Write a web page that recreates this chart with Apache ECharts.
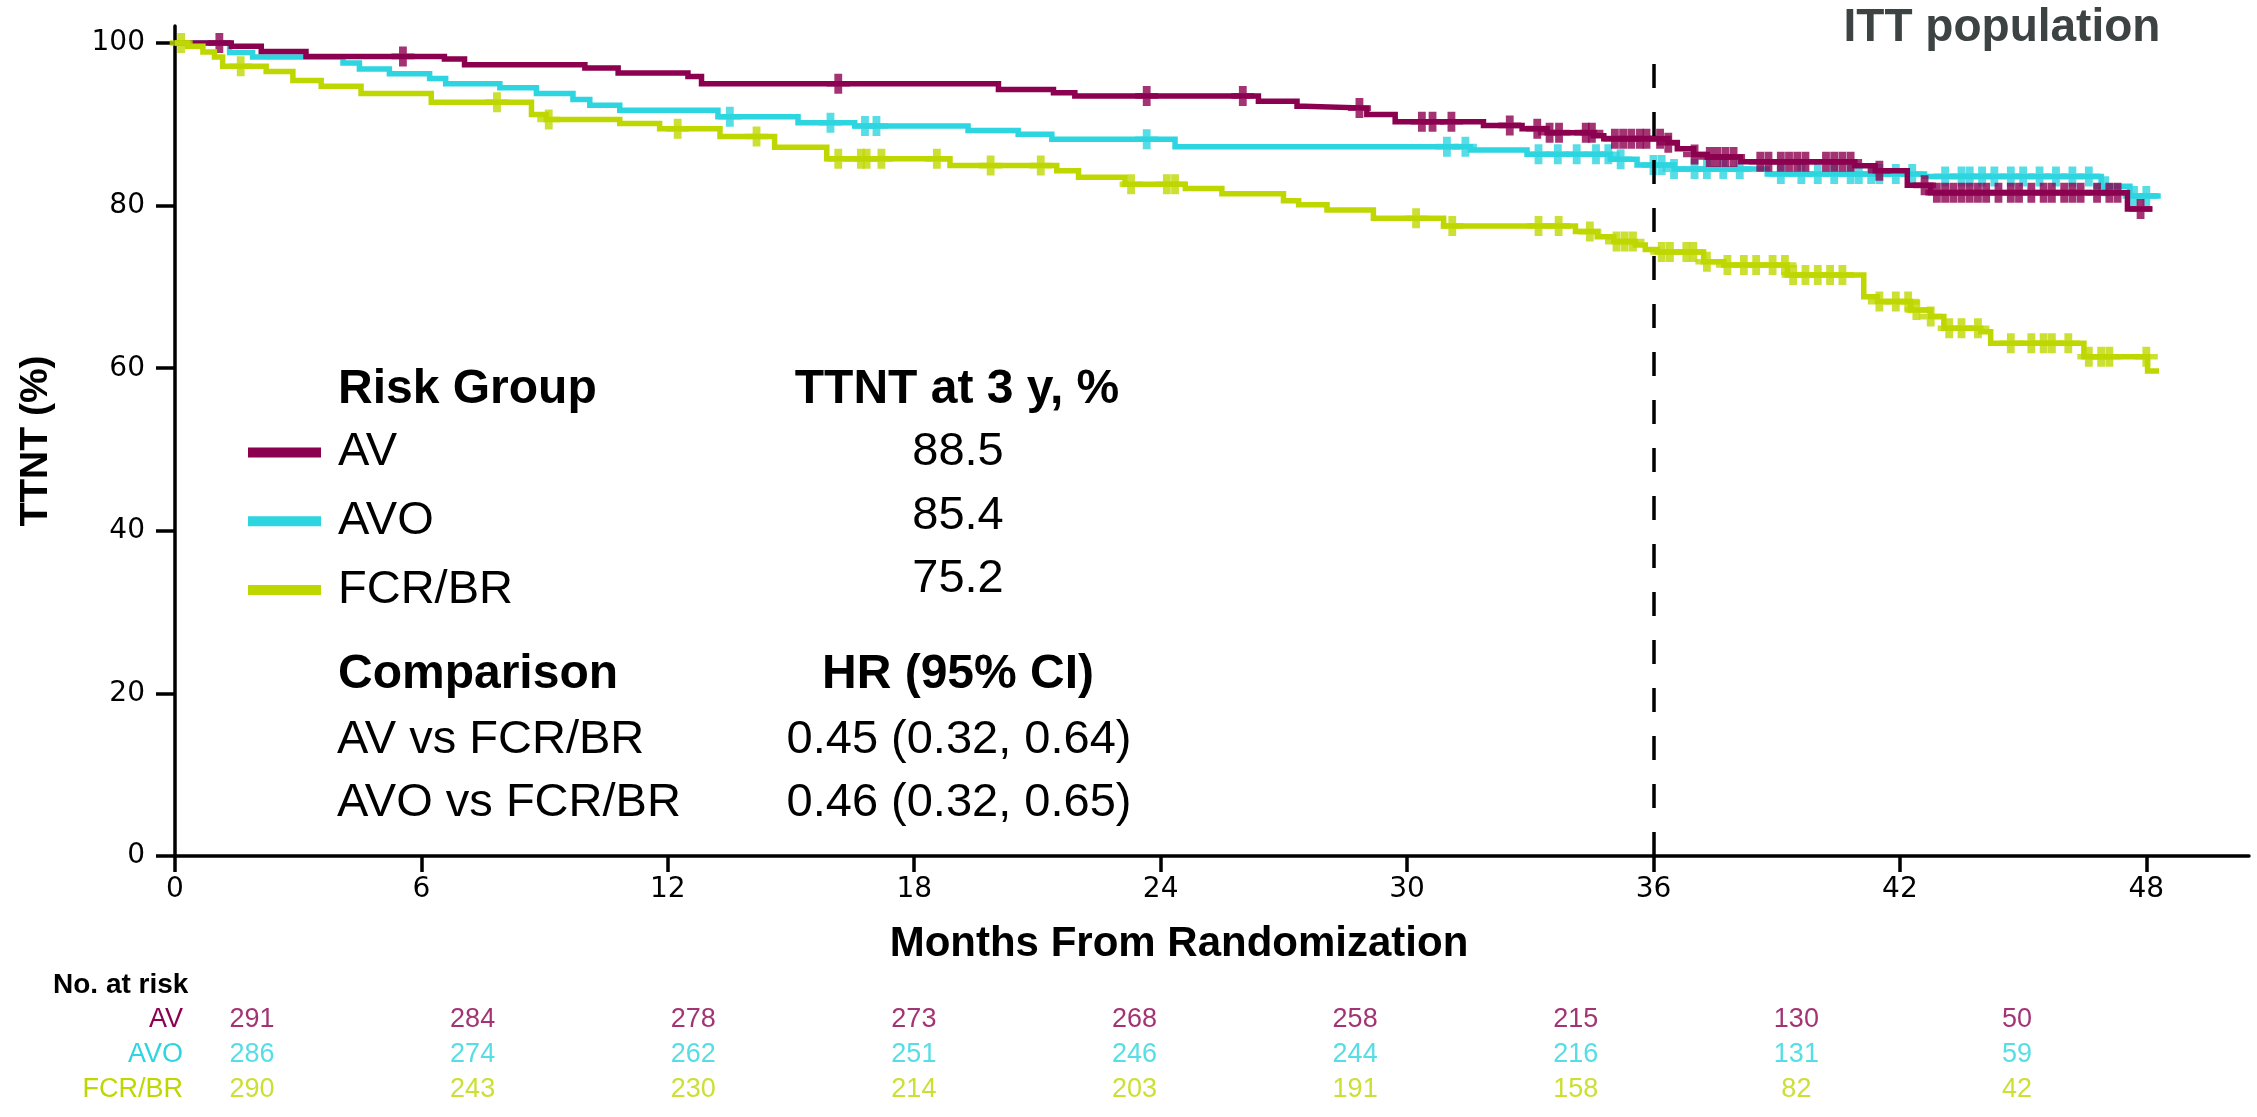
<!DOCTYPE html>
<html><head><meta charset="utf-8">
<script src="https://cdn.jsdelivr.net/npm/echarts@6/dist/echarts.min.js"></script>
<style>html,body{margin:0;padding:0;background:#fff}#c{width:2257px;height:1117px}</style>
</head><body><div id="c"></div>
<script>
// ---------- data ----------
const groupNames = ['AV', 'AVO', 'FCR/BR'];
const groupColors = ['#8C0050', '#2DD5E0', '#BFD700'];
const xTicks = [0, 6, 12, 18, 24, 30, 36, 42, 48];
const yTicks = [0, 20, 40, 60, 80, 100];

// Kaplan-Meier steps: [month, TTNT % from that month on]
const avSteps = [[0,100],[1.37,99.6],[2.10,98.97],[3.19,98.36],[6.56,98.04],[7.05,97.34],[9.98,96.94],[10.79,96.33],[12.49,95.9],[12.82,95.0],[20.05,94.28],[21.39,93.88],[21.91,93.5],[26.38,92.85],[27.32,92.24],[27.5,92.0],[29.02,91.22],[29.71,90.32],[31.86,89.87],[32.8,89.47],[33.41,88.98],[34.53,88.6],[34.79,88.24],[36.33,87.75],[36.58,87.0],[36.98,86.3],[37.31,86.0],[38.12,85.4],[40.9,84.9],[41.4,84.3],[42.18,82.5],[42.75,81.6],[47.54,79.6]];
const avEnd = 48.15;
const avoSteps = [[0,100],[1.33,98.85],[1.89,98.3],[4.09,97.55],[4.49,96.8],[5.22,96.24],[6.20,95.63],[6.59,95.0],[7.91,94.5],[8.80,93.79],[9.69,93.06],[10.10,92.36],[10.83,91.75],[13.22,90.93],[15.17,90.2],[16.55,89.8],[19.31,89.26],[20.53,88.77],[21.35,88.16],[24.35,87.26],[31.54,86.85],[32.92,86.32],[34.95,85.71],[35.6,85.0],[36.5,84.5],[38.77,83.9],[42.6,83.6],[46.9,82.4],[47.6,81.2]];
const avoEnd = 48.35;
const fcrSteps = [[0,100],[0.31,99.6],[0.68,98.9],[0.96,98.3],[1.16,97.14],[2.22,96.5],[2.87,95.4],[3.56,94.7],[4.53,93.8],[6.24,92.73],[8.68,91.2],[9.04,90.6],[10.83,90.1],[11.80,89.45],[13.27,88.5],[14.6,87.2],[15.87,85.76],[18.87,84.93],[21.47,84.28],[22.0,83.5],[23.13,82.64],[24.6,82.1],[25.49,81.45],[26.99,80.59],[27.36,80.1],[28.05,79.48],[29.18,78.46],[30.89,77.51],[34.1,76.81],[34.63,76.19],[35.03,75.58],[35.56,75.17],[35.8,74.6],[36.09,74.3],[37.22,73.1],[37.71,72.7],[39.26,71.48],[41.12,68.8],[41.45,68.2],[42.26,67.17],[42.75,66.35],[43.07,64.92],[43.97,64.5],[44.21,63.07],[46.48,61.42],[48.03,59.66]];
const fcrEnd = 48.31;

// censoring times (months)
const avCensor = [1.08,5.55,16.15,23.66,26.0,28.84,30.36,30.62,31.08,32.5,33.17,33.47,33.7,34.35,34.5,35.06,35.26,35.46,35.67,35.83,36.16,36.36,37.0,37.37,37.55,37.75,37.95,38.6,38.8,39.1,39.3,39.5,39.7,40.2,40.4,40.6,40.8,41.5,42.6,42.9,43.1,43.3,43.5,43.7,43.9,44.1,44.4,44.7,44.9,45.2,45.5,45.7,46.0,46.2,46.4,46.8,47.1,47.3,47.86];
const avoCensor = [13.51,15.96,16.8,17.08,23.66,30.97,31.42,33.2,33.67,34.13,34.6,34.9,35.2,36.0,36.2,36.5,37.0,37.3,37.7,38.1,39.1,39.6,40.0,40.4,40.8,41.0,41.3,41.5,41.9,42.3,43.1,43.5,43.7,44.0,44.3,44.7,45.0,45.4,45.8,46.2,46.6,47.0,47.7,48.0];
const fcrCensor = [0.15,1.6,7.84,9.1,12.24,14.16,16.15,16.7,16.84,17.2,18.55,19.86,21.08,23.28,24.15,24.35,30.22,31.1,33.2,33.69,34.45,35.1,35.3,35.5,36.2,36.4,36.8,36.97,37.3,37.8,38.2,38.5,38.9,39.2,39.4,39.7,40.0,40.3,40.6,41.5,41.9,42.2,42.4,42.75,43.2,43.5,43.9,44.7,45.2,45.5,45.7,46.1,46.6,46.9,47.1,48.0];

// number at risk
const atRiskTimes = [0, 6, 12, 18, 24, 30, 36, 42, 48];
const avAtRisk = [291, 284, 278, 273, 268, 258, 215, 130, 50];
const avoAtRisk = [286, 274, 262, 251, 246, 244, 216, 131, 59];
const fcrAtRisk = [290, 243, 230, 214, 203, 191, 158, 82, 42];

// annotation table
const ttnt3y = ['88.5', '85.4', '75.2'];
const comparisons = ['AV vs FCR/BR', 'AVO vs FCR/BR'];
const hrTexts = ['0.45 (0.32, 0.64)', '0.46 (0.32, 0.65)'];
const landmarkMonth = 36;

// ---------- build ----------
const FONT = '"Liberation Sans", Arial, Helvetica, sans-serif';
const TICKFONT = '"DejaVu Sans", "Liberation Sans", Arial, sans-serif';
function survAt(steps, t) { let v = steps[0][1]; for (const s of steps) { if (s[0] <= t) v = s[1]; } return v; }
function lineData(steps, end) { return steps.concat([[end, steps[steps.length - 1][1]]]); }
const plusPath = 'path://M33,0H67V36H100V64H67V100H33V64H0V36H33Z';

const groups = [
  { steps: avSteps, end: avEnd, censor: avCensor, risk: avAtRisk },
  { steps: avoSteps, end: avoEnd, censor: avoCensor, risk: avoAtRisk },
  { steps: fcrSteps, end: fcrEnd, censor: fcrCensor, risk: fcrAtRisk }
];
const drawOrder = [1, 0, 2];
const series = [];
drawOrder.forEach((gi, k) => {
  const g = groups[gi];
  const s = {
    name: groupNames[gi], type: 'line', step: 'end', data: lineData(g.steps, g.end),
    showSymbol: false, symbol: 'none', z: 2 + k,
    lineStyle: { color: groupColors[gi], width: 5.5, cap: 'butt', join: 'miter' },
    itemStyle: { color: groupColors[gi] }, silent: true, animation: false
  };
  if (gi === 0) {
    s.markLine = {
      silent: true, symbol: ['none', 'none'], label: { show: false },
      lineStyle: { color: '#000', width: 3.5, type: [24, 24] },
      data: [[{ coord: [landmarkMonth, 0] }, { coord: [landmarkMonth, 99.3] }]]
    };
  }
  series.push(s);
  series.push({
    name: groupNames[gi] + ' censored', type: 'scatter', z: 2 + k,
    data: g.censor.map(t => [t, survAt(g.steps, t)]),
    symbol: plusPath, symbolSize: [23, 20],
    itemStyle: { color: groupColors[gi] }, silent: true, animation: false
  });
});
groups.forEach((g, gi) => {
  series.push({
    name: groupNames[gi] + ' at risk', type: 'scatter', xAxisIndex: 1, yAxisIndex: 1,
    data: g.risk.map((n, i) => [atRiskTimes[i], gi, n]),
    symbolSize: 1, itemStyle: { color: 'rgba(0,0,0,0)' }, clip: false, silent: true, animation: false,
    label: { show: true, position: 'inside', formatter: p => String(p.value[2]), color: groupColors[gi], fontSize: 27, fontFamily: FONT }
  });
});

const graphic = [];
function txt(x, y, text, size, bold, align, color) {
  graphic.push({ type: 'text', x: x, y: y, silent: true, style: {
    text: text, fill: color || '#000', font: (bold ? 'bold ' : '') + size + 'px ' + FONT,
    textAlign: align, align: align, textVerticalAlign: 'middle', verticalAlign: 'middle' } });
}
txt(2002, 28, 'ITT population', 46, true, 'center', '#3d4242');
txt(338, 390, 'Risk Group', 48, true, 'left');
txt(957, 390, 'TTNT at 3 y, %', 48, true, 'center');
ttnt3y.forEach((v, i) => txt(958, [452, 516, 579][i], v, 47, false, 'center'));
txt(338, 675, 'Comparison', 48, true, 'left');
txt(958, 675, 'HR (95% CI)', 48, true, 'center');
comparisons.forEach((v, i) => txt(337, [740, 803][i], v, 47, false, 'left'));
hrTexts.forEach((v, i) => txt(959, [740, 803][i], v, 47, false, 'center'));
txt(53, 985, 'No. at risk', 28, true, 'left');

const option = {
  animation: false,
  backgroundColor: '#fff',
  textStyle: { fontFamily: FONT },
  grid: [
    { left: 175, right: 8, top: 26, bottom: 261, outerBoundsMode: 'none', containLabel: false },
    { left: 252, right: 240, top: 1002.5, height: 105, outerBoundsMode: 'none', containLabel: false }
  ],
  xAxis: [
    { type: 'value', gridIndex: 0, min: 0, max: 50.5, interval: 6,
      name: 'Months From Randomization', nameLocation: 'middle', nameGap: 67, nameMoveOverlap: false,
      nameTextStyle: { fontSize: 42, fontWeight: 'bold', color: '#000', fontFamily: FONT, padding: [0, 66, 0, 0] },
      axisLine: { show: true, onZero: false, lineStyle: { color: '#000', width: 3.5 } },
      axisTick: { show: true, length: 16, lineStyle: { color: '#000', width: 3.5 }, customValues: xTicks },
      axisLabel: { fontSize: 28, color: '#000', margin: 20, fontFamily: TICKFONT, customValues: xTicks },
      splitLine: { show: false } },
    { type: 'value', gridIndex: 1, min: 0, max: 48, show: false }
  ],
  yAxis: [
    { type: 'value', gridIndex: 0, min: 0, max: 102.1, interval: 20,
      name: 'TTNT (%)', nameLocation: 'middle', nameGap: 119, nameRotate: 90, nameMoveOverlap: false,
      nameTextStyle: { fontSize: 39, fontWeight: 'bold', color: '#000', fontFamily: FONT },
      axisLine: { show: true, onZero: false, lineStyle: { color: '#000', width: 3.5 } },
      axisTick: { show: true, length: 19, lineStyle: { color: '#000', width: 3.5 }, customValues: yTicks },
      axisLabel: { fontSize: 28, color: '#000', margin: 30, fontFamily: TICKFONT, customValues: yTicks },
      splitLine: { show: false } },
    { type: 'category', gridIndex: 1, data: groupNames, inverse: true,
      axisLine: { show: false }, axisTick: { show: false }, splitLine: { show: false },
      axisLabel: { interval: 0, hideOverlap: false, fontSize: 27, fontFamily: FONT, margin: 69,
        color: (v, i) => groupColors[groupNames.indexOf(v)] } }
  ],
  legend: {
    show: true, orient: 'vertical', left: 243, top: 424, itemGap: 21.7,
    itemWidth: 73, itemHeight: 10, icon: 'rect', selectedMode: false,
    data: groupNames,
    textStyle: { fontSize: 47, lineHeight: 44, color: '#000', fontFamily: FONT, padding: [0, 0, 0, 12] }
  },
  graphic: graphic,
  series: series
};
const chart = echarts.init(document.getElementById('c'), null, { renderer: 'canvas' });
chart.setOption(option);
</script>
</body></html>
